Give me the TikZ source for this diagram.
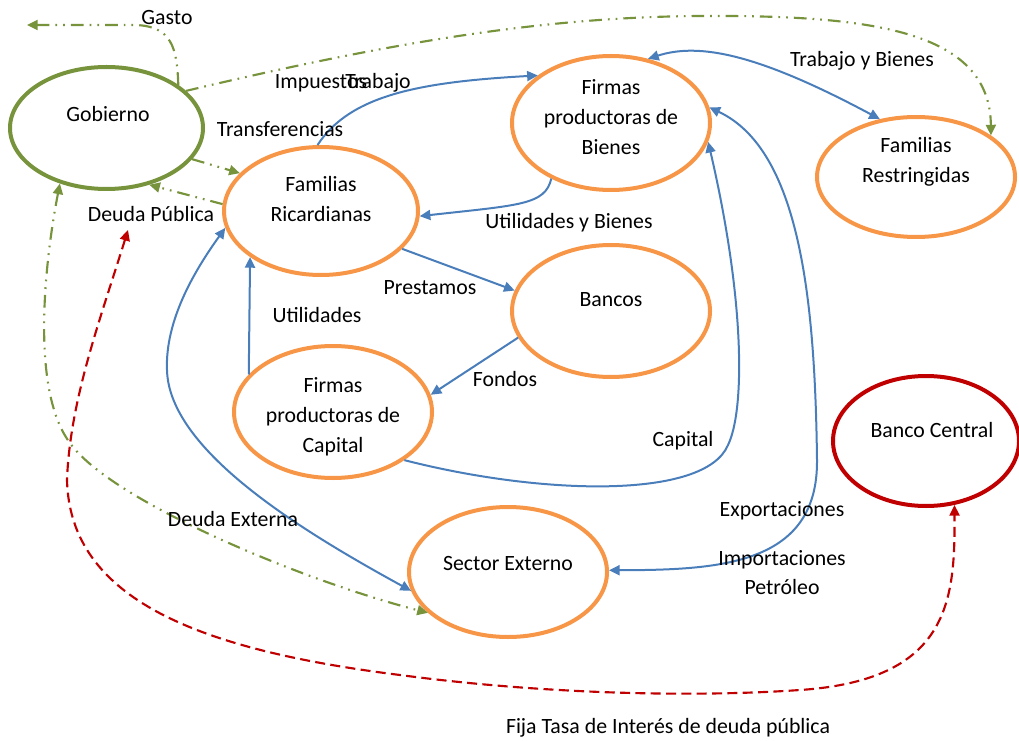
\documentclass[tikz,border=0pt]{standalone}
\usepackage{fontspec}
\setmainfont{Carlito}
\usetikzlibrary{arrows.meta,shapes.geometric}
\definecolor{orng}{HTML}{F79646}
\definecolor{grn}{HTML}{77933C}
\definecolor{blu}{HTML}{4A7EBB}
\definecolor{rd}{HTML}{C00000}
\begin{document}
\begin{tikzpicture}[x=0.75pt,y=-0.75pt,
  font=\fontsize{16.35pt}{22.5pt}\selectfont,
  >={Triangle[length=8pt,width=7.5pt]},
  ell/.style={ellipse,draw=orng,line width=3pt,inner sep=0pt,minimum width=148.5pt,minimum height=99pt},
  txt/.style={align=center,inner sep=0pt},
  bl/.style={draw=blu,line width=1.5pt},
  gr/.style={draw=grn,line width=1.6pt,dash pattern=on 9.5pt off 4.5pt on 1.3pt off 4.5pt on 1.3pt off 4.5pt},
  rdd/.style={draw=rd,line width=1.6pt,dash pattern=on 7.5pt off 4pt}
]
\useasboundingbox (0,0) rectangle (1019,741);

% ellipses
\node[ell,draw=grn,minimum width=144.75pt,minimum height=91.5pt] (gob) at (106.5,128) {};
\node[ell,minimum width=145.5pt,minimum height=96pt] (fr) at (321,211) {};
\node[ell,minimum height=100.5pt] (fb) at (611,123) {};
\node[ell,minimum height=90pt] (frest) at (916,177) {};
\node[ell] (ban) at (611,311) {};
\node[ell] (fc) at (333,412) {};
\node[ell,minimum height=97.5pt] (se) at (508,572) {};
\node[ell,draw=rd,minimum width=139.5pt,minimum height=97.5pt] (bc) at (926,441) {};

% texts in ellipses
\node[txt] (gobt) at (108,114) {Gobierno};
\node[txt] (frt) at (321,199) {Familias\\Ricardianas};
\node[txt] (fbt) at (611,117) {Firmas\\productoras de\\Bienes};
\node[txt] (frestt) at (916,162) {Familias\\Restringidas};
\node[txt] (bant) at (611,300) {Bancos};
\node[txt] (fct) at (333,417) {Firmas\\productoras de\\Capital};
\node[txt] (set) at (508,564) {Sector Externo};
\node[txt] (bct) at (932,430) {Banco Central};

% free ends
\coordinate (gastoend) at (27,25);
\coordinate (dpt) at (128,230);

% green dash-dot connectors
\draw[gr,->] (gob.31) .. controls (177,48) and (172,26) .. (135,25) -- (gastoend);
\draw[gr,->] (gob.25) .. controls (400,40) and (550,17) .. (700,16) .. controls (870,15) and (990,30) .. (frest.29);
\draw[gr,->] (gob.-20) -- (fr.155);
\draw[gr,->] (fr.176) -- (gob.-53);
\draw[gr,<->] (gob.-130) .. controls (45,260) and (30,390) .. (70,443) .. controls (110,500) and (300,580) .. (se.207);

% blue connectors
\draw[bl,->] (fr.93) .. controls (350,95) and (420,82) .. (fb.147);
\draw[bl,->] (fb.-137) .. controls (545,205) and (520,205) .. (fr.-3);
\draw[bl,<->] (fb.60) .. controls (700,42) and (760,55) .. (frest.122);
\draw[bl,->] (fr.-25) -- (ban.168);
\draw[bl,->] (ban.196) -- (fc.10);
\draw[bl,->] (fc.156) -- (fr.-147);
\draw[bl,->] (fc.-34) .. controls (540,495) and (705,500) .. (728,445) .. controls (745,410) and (745,300) .. (fb.-11);
\draw[bl,<->] (se.1) .. controls (720,570) and (818,565) .. (817,460) .. controls (815,300) and (800,150) .. (fb.9);
\draw[bl,<->] (se.191) .. controls (300,530) and (169,450) .. (167,370) .. controls (165,320) and (195,270) .. (fr.190);

% red dashed
\draw[rdd,<->] (dpt) .. controls (100,320) and (70,400) .. (67,480) .. controls (70,600) and (200,650) .. (400,675) .. controls (550,695) and (700,697) .. (800,690) .. controls (950,680) and (955,600) .. (bc.-66);

% labels
\node[txt] (lgasto) at (167,18) {Gasto};
\node[txt] (limp) at (321,83) {Impuestos};
\node[txt] (ltrab) at (378,83) {Trabajo};
\node[txt] (ltransf) at (280,129) {Transferencias};
\node[txt] (ldp) at (151,214) {Deuda Pública};
\node[txt] (lutb) at (569,223) {Utilidades y Bienes};
\node[txt] (ltyb) at (862,61) {Trabajo y Bienes};
\node[txt] (lprest) at (430,288) {Prestamos};
\node[txt] (lutil) at (317,315) {Utilidades};
\node[txt] (lfond) at (505,379) {Fondos};
\node[txt] (lcap) at (683,441) {Capital};
\node[txt] (lexp) at (782,511) {Exportaciones};
\node[txt] (limpo) at (782,560) {Importaciones};
\node[txt] (lpet) at (782,587) {Petróleo};
\node[txt] (ldext) at (233,519) {Deuda Externa};
\node[txt] (lfija) at (668,728) {Fija Tasa de Interés de deuda pública};
\end{tikzpicture}
\end{document}
